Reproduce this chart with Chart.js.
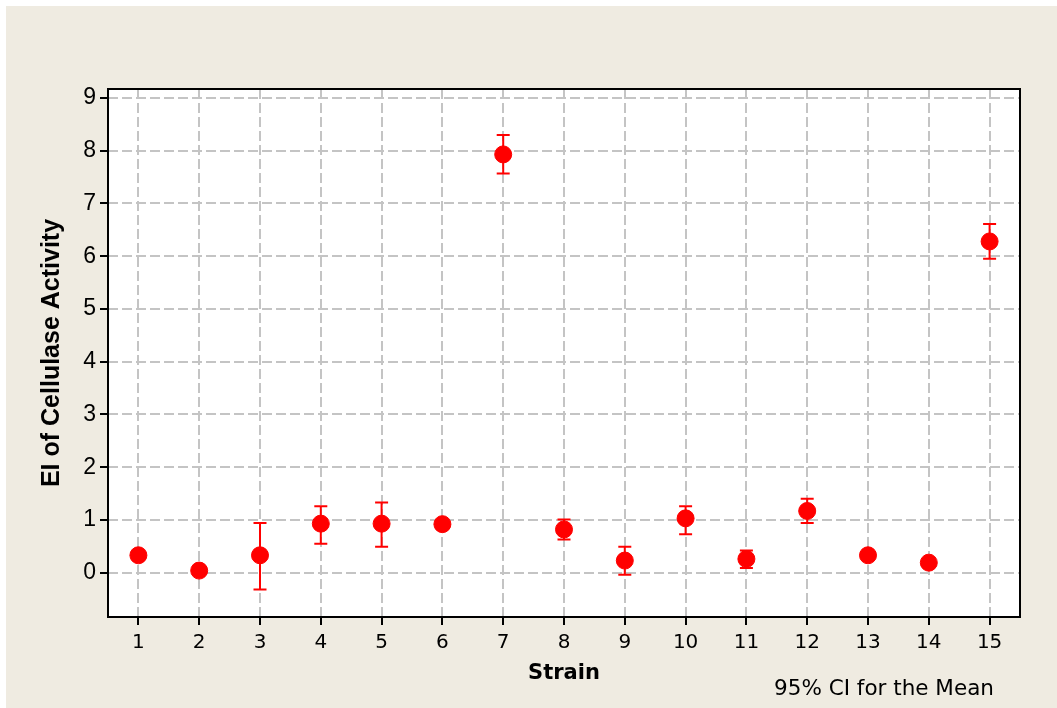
<!DOCTYPE html>
<html>
<head>
<meta charset="utf-8">
<script src="https://cdn.jsdelivr.net/npm/chart.js@4.4.1/dist/chart.umd.min.js"></script>
<style>
  html, body { margin: 0; padding: 0; background: #ffffff; }
  #wrap { position: absolute; left: 6px; top: 6px; width: 1051px; height: 702px; background: #efebe1; }
</style>
</head>
<body>
<div id="wrap"><canvas id="ciChart" width="1051" height="702"></canvas></div>
<script>
// Strain numbers and EI means with 95% CI limits
const strains = [1, 2, 3, 4, 5, 6, 7, 8, 9, 10, 11, 12, 13, 14, 15];
const means = [0.33, 0.04, 0.33, 0.93, 0.93, 0.92, 7.93, 0.82, 0.23, 1.03, 0.26, 1.17, 0.33, 0.19, 6.28];
const lower = [null, null, -0.32, 0.55, 0.49, null, 7.57, 0.63, -0.04, 0.73, 0.09, 0.94, null, null, 5.95];
const upper = [null, null, 0.94, 1.26, 1.33, null, 8.30, 1.01, 0.49, 1.26, 0.42, 1.40, null, null, 6.61];
const yTicks = [0, 1, 2, 3, 4, 5, 6, 7, 8, 9];

const points = strains.map((s, i) => ({ x: s, y: means[i] }));

// white plot area, error bars, box and the footnote
const ciPlugin = {
    id: 'ciPlugin',
    beforeDraw(chart) {
        const { ctx, chartArea: a } = chart;
        ctx.save();
        ctx.fillStyle = '#ffffff';
        ctx.fillRect(a.left, a.top, a.right - a.left, a.bottom - a.top);
        ctx.restore();
    },
    afterDatasetsDraw(chart) {
        const { ctx, scales: { x, y } } = chart;
        ctx.save();
        ctx.strokeStyle = '#ff0000';
        ctx.lineWidth = 2;
        strains.forEach((s, i) => {
            if (lower[i] === null) return;
            const px = x.getPixelForValue(s);
            const pLo = y.getPixelForValue(lower[i]);
            const pHi = y.getPixelForValue(upper[i]);
            ctx.beginPath();
            ctx.moveTo(px, pLo); ctx.lineTo(px, pHi);
            ctx.moveTo(px - 6.5, pLo); ctx.lineTo(px + 6.5, pLo);
            ctx.moveTo(px - 6.5, pHi); ctx.lineTo(px + 6.5, pHi);
            ctx.stroke();
        });
        ctx.restore();
    },
    afterDraw(chart) {
        const { ctx, chartArea: a } = chart;
        ctx.save();
        ctx.strokeStyle = '#000000';
        ctx.lineWidth = 2;
        ctx.strokeRect(a.left, a.top, a.right - a.left, a.bottom - a.top);
        ctx.fillStyle = '#000000';
        ctx.font = '21.5px "DejaVu Sans"';
        ctx.textAlign = 'center';
        ctx.textBaseline = 'alphabetic';
        ctx.fillText('95% CI for the Mean', 878, 689);
        ctx.restore();
    }
};

new Chart(document.getElementById('ciChart').getContext('2d'), {
    type: 'scatter',
    data: {
        datasets: [{
            label: 'EI',
            data: points,
            backgroundColor: '#ff0000',
            borderColor: '#ff0000',
            pointRadius: 8.5,
            pointHoverRadius: 8.5
        }]
    },
    options: {
        responsive: false,
        animation: false,
        layout: { padding: { top: 83, right: 37, left: 0, bottom: 0 } },
        plugins: {
            legend: { display: false },
            tooltip: { enabled: false }
        },
        scales: {
            x: {
                type: 'linear',
                min: 0.5,
                max: 15.5,
                afterBuildTicks(scale) { scale.ticks = strains.map(v => ({ value: v })); },
                afterFit(scale) { scale.height = 91; },
                grid: {
                    color: '#c4c4c4',
                    lineWidth: 2,
                    tickColor: '#000000',
                    tickLength: 8,
                    tickWidth: 2
                },
                border: { display: false, dash: [10, 4] },
                ticks: {
                    color: '#000000',
                    font: { family: 'DejaVu Sans', size: 20 },
                    padding: 6,
                    maxRotation: 0
                },
                title: {
                    display: true,
                    text: 'Strain',
                    color: '#000000',
                    font: { family: 'DejaVu Sans', size: 21, weight: 'bold' },
                    padding: { top: 0, bottom: 22 }
                }
            },
            y: {
                min: -0.84,
                max: 9.17,
                afterBuildTicks(scale) { scale.ticks = yTicks.map(v => ({ value: v })); },
                afterFit(scale) { scale.width = 102; },
                grid: {
                    color: '#c4c4c4',
                    lineWidth: 2,
                    tickColor: '#000000',
                    tickLength: 8,
                    tickWidth: 2
                },
                border: { display: false, dash: [10, 4] },
                ticks: {
                    color: '#000000',
                    font: { family: 'Liberation Sans', size: 23 },
                    padding: 4
                },
                title: {
                    display: true,
                    text: 'EI of Cellulase Activity',
                    color: '#000000',
                    font: { family: 'Liberation Sans', size: 25, weight: 'bold' },
                    padding: { top: 31, bottom: 0 }
                }
            }
        }
    },
    plugins: [ciPlugin]
});
</script>
</body>
</html>
